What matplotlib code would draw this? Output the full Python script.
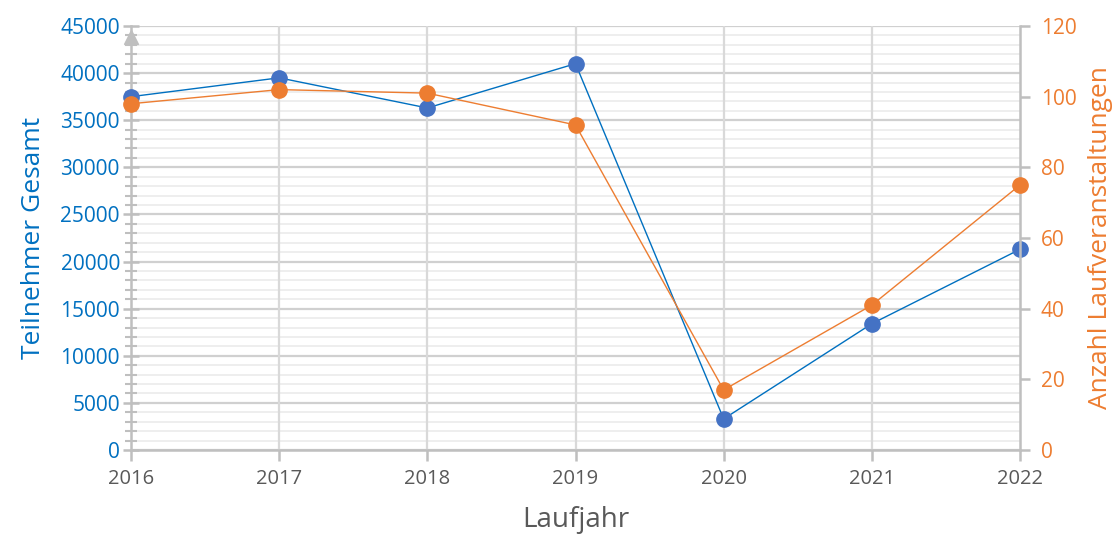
import matplotlib.pyplot as plt
from matplotlib.ticker import MultipleLocator

years = [2016, 2017, 2018, 2019, 2020, 2021, 2022]
teilnehmer = [37500, 39500, 36300, 41000, 3300, 13400, 21300]
veranstaltungen = [98, 102, 101, 92, 17, 41, 75]

BLUE_LINE = "#0070C0"
BLUE_MARK = "#4472C4"
ORANGE = "#ED7D31"
AXIS_GRAY = "#BFBFBF"
GRID_MAJOR = "#D0D0D0"
GRID_MINOR = "#EDEDED"
TEXT_GRAY = "#595959"

plt.rcParams["font.family"] = ["Open Sans", "DejaVu Sans"]

fig = plt.figure(figsize=(11.18, 5.36), dpi=100)
ax = fig.add_axes([131 / 1118, 86 / 536, 889 / 1118, 424 / 536])
ax2 = ax.twinx()

ax.set_xlim(2016, 2022)
ax.set_ylim(0, 45000)
ax2.set_ylim(0, 120)

ax.yaxis.set_major_locator(MultipleLocator(5000))
ax.yaxis.set_minor_locator(MultipleLocator(1000))
ax.set_xticks(years)
ax2.yaxis.set_major_locator(MultipleLocator(20))

# horizontal grid (minor below major), vertical year lines on top of them
ax.grid(True, which="minor", axis="y", color=GRID_MINOR, linewidth=1.3, zorder=0.3)
ax.grid(True, which="major", axis="y", color=GRID_MAJOR, linewidth=1.6, zorder=0.4)
ax.set_axisbelow(True)
for yr in years[1:-1]:
    ax.axvline(yr, color="#D9D9D9", linewidth=1.6, zorder=0.9)

ax.spines["top"].set_visible(False)
ax2.spines["top"].set_visible(False)
ax.spines["right"].set_visible(False)
ax2.spines["left"].set_visible(False)
ax2.spines["bottom"].set_visible(False)
for sp in (ax.spines["left"], ax.spines["bottom"], ax2.spines["right"]):
    sp.set_color(AXIS_GRAY)
    sp.set_linewidth(1.8)

ax.tick_params(axis="y", which="major", direction="inout", length=12, width=1.8,
               color=AXIS_GRAY, labelcolor=BLUE_LINE, labelsize=15, pad=2)
ax.tick_params(axis="y", which="minor", direction="inout", length=8, width=1.5,
               color=AXIS_GRAY)
ax.tick_params(axis="x", direction="out", length=8, width=1.8,
               color=AXIS_GRAY, labelcolor=TEXT_GRAY, labelsize=14.5, pad=6)
ax2.tick_params(axis="y", direction="out", length=7, width=1.8,
                color=AXIS_GRAY, labelcolor=ORANGE, labelsize=15, pad=8)

ax.plot(years, teilnehmer, color=BLUE_LINE, linewidth=1.0, marker="o",
        markersize=11, markerfacecolor=BLUE_MARK, markeredgecolor=BLUE_MARK,
        zorder=3, clip_on=False)
ax2.plot(years, veranstaltungen, color=ORANGE, linewidth=1.0, marker="o",
         markersize=11, markerfacecolor=ORANGE, markeredgecolor=ORANGE,
         zorder=3, clip_on=False)

# arrow head at top of the left axis
ax.plot([0], [0.975], marker="^", markersize=10, color=AXIS_GRAY,
        transform=ax.transAxes, clip_on=False, zorder=2)

ax.set_ylabel("Teilnehmer Gesamt", color=BLUE_LINE, fontsize=19, labelpad=10)
ax2.set_ylabel("Anzahl Laufveranstaltungen", color=ORANGE, fontsize=19, labelpad=8)
ax.set_xlabel("Laufjahr", color=TEXT_GRAY, fontsize=20, labelpad=12)

fig.savefig("out.png", dpi=100)
